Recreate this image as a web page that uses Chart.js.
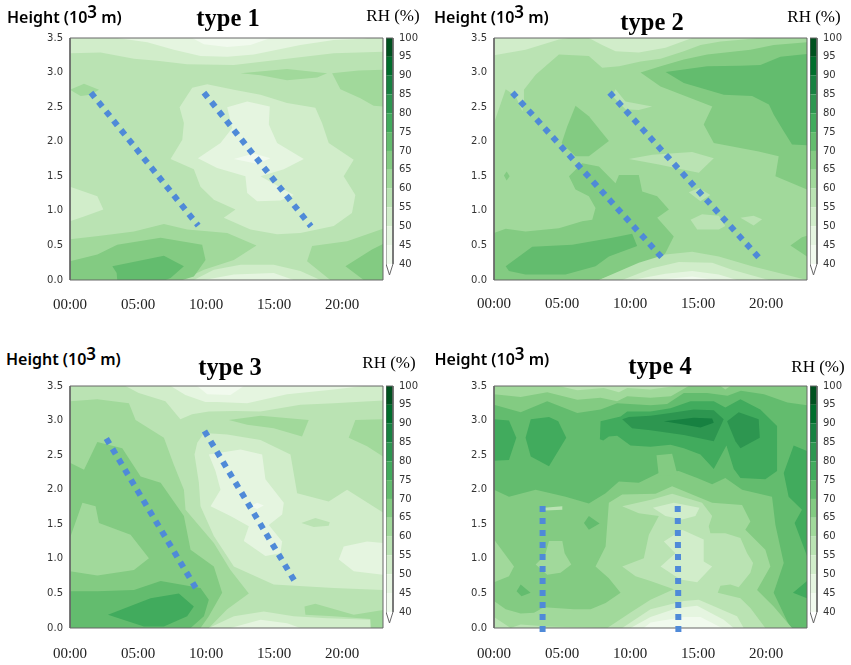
<!DOCTYPE html>
<html>
<head>
<meta charset="utf-8">
<script src="https://cdn.jsdelivr.net/npm/chart.js@4"></script>
<style>
  body { margin: 0; background: #fff; width: 851px; height: 665px; overflow: hidden; position: relative; }
  canvas { position: absolute; filter: blur(0.35px); }
  .lbl { position: absolute; white-space: nowrap; color: #000; transform: translateY(-50%); }
  .h { font: 600 16px "Noto Sans", sans-serif; }
  .h sup { font-size: 17px; line-height: 0; vertical-align: 5px; }
  .t { font: bold 24.5px "Liberation Serif", serif; transform: translate(-50%, -50%); }
  .rh { font: 17px "Liberation Serif", serif; transform: translate(-50%, -50%); }
</style>
</head>
<body>
<script>
const hourTicks = [0, 5, 10, 15, 20];
const hourLabels = ["00:00", "05:00", "10:00", "15:00", "20:00"];
const heightTicks = [0, 0.5, 1, 1.5, 2, 2.5, 3, 3.5];
const rhTicks = [40, 45, 50, 55, 60, 65, 70, 75, 80, 85, 90, 95, 100];
const bandColors = {
  40: "#f1faee", 45: "#e5f5e0", 50: "#d1edca", 55: "#bae3b3", 60: "#a1d99b", 65: "#83cb82",
  70: "#63bc6e", 75: "#41ab5d", 80: "#2d9650", 85: "#178141", 90: "#006d2c", 95: "#00511f"
};

// contour regions: [RH band, outline as [hour, height]], painted in order
const type1Contours = [
  [55, [[0,0],[23,0],[23,3.5],[0,3.5]]],
  [50, [[0,3.5],[23,3.5],[23,3.3],[19.38,3.28],[15.95,3.2],[12.04,3.11],[8.61,3.12],[6.41,3.17],[4.7,3.2],[2.25,3.29],[0,3.28]]],
  [45, [[3.47,3.5],[5.68,3.44],[7.63,3.33],[9.59,3.24],[11.55,3.23],[13.51,3.26],[15.22,3.33],[16.93,3.4],[19.38,3.47],[21.58,3.49],[21.83,3.5]]],
  [40, [[8.98,3.5],[9.84,3.41],[11.55,3.37],[13.26,3.4],[14.73,3.5]]],
  [60, [[12.53,2.99],[15.95,3.05],[18.89,2.99],[18.16,2.93],[15.95,2.89],[14,2.96]]],
  [60, [[19.26,2.99],[21.21,3.03],[23,3.04],[23,2.51],[22.31,2.52],[21.34,2.63],[19.87,2.76]]],
  [60, [[0,2.75],[1.03,2.84],[2.13,2.75],[1.52,2.68],[0.78,2.66]]],
  [50, [[8.98,2.78],[10.08,2.83],[12.04,2.75],[14,2.68],[15.95,2.56],[18.03,2.49],[18.52,2.27],[19.01,1.98],[20.85,1.74],[20.11,1.5],[20.97,1.23],[20.72,0.97],[19.38,0.78],[16.93,0.68],[15.22,0.66],[13.26,0.73],[11.3,0.9],[12.16,1.02],[10.57,1.16],[9.59,1.35],[9.1,1.6],[7.39,1.75],[8.25,2.03],[8.37,2.27],[8.05,2.5]]],
  [45, [[11.55,2.5],[13.02,2.58],[14.68,2.51],[14.61,2.25],[15.22,1.98],[17.18,1.75],[15.71,1.6],[14,1.5],[16.44,1.23],[15.46,1.15],[13.75,1.14],[13.02,1.26],[12.89,1.5],[10.81,1.62],[9.4,1.76],[11.06,1.98],[11.92,2.2]]],
  [40, [[12.04,1.75],[13.51,1.83],[14.73,1.76],[13.75,1.68]]],
  [50, [[0,1.35],[2.01,1.21],[2.45,1.02],[1.03,0.92],[0,0.85]]],
  [60, [[0,0.59],[2.25,0.64],[4.7,0.7],[6.9,0.81],[8.61,0.73],[11.55,0.68],[13.7,0.5],[12.04,0.29],[9.84,0.15],[8.25,0],[0,0]]],
  [60, [[23,0.74],[20.36,0.56],[17.79,0.49],[17.42,0.27],[19.13,0],[23,0]]],
  [65, [[0,0.27],[2.01,0.37],[3.47,0.51],[6.66,0.61],[9.71,0.51],[9.96,0.29],[9.1,0.05],[8.25,0],[0,0]]],
  [70, [[3.11,0.2],[6.9,0.35],[8.37,0.2],[7.39,0.03],[7.02,0],[3.47,0],[3.43,0.1]]],
  [65, [[20.24,0.2],[22.19,0.44],[23,0.52],[23,0],[21.58,0]]],
  [50, [[9.1,0],[10.57,0.15],[12.53,0.22],[14.97,0.22],[16.93,0.13],[18.4,0]]],
  [45, [[9.84,0],[12.04,0.08],[14.97,0.1],[16.44,0]]]
];
const type1Ridges = [[[1.54,2.71],[9.42,0.786]], [[9.84,2.71],[17.71,0.776]]];

const type2Contours = [
  [60, [[0,0],[23,0],[23,3.5],[0,3.5]]],
  [55, [[0,3.5],[19.3,3.5],[18.36,3.48],[16.65,3.45],[15.18,3.4],[13.95,3.31],[12.24,3.2],[10.77,3.16],[9.2,3.09],[7.95,3.07],[6.97,3.24],[4.77,3.26],[3.06,2.97],[2.2,2.75],[2.2,2.56],[2.08,2.44],[1.59,2.66],[0.86,2.76],[0.42,2.51],[0,2.27]]],
  [50, [[0,3.5],[5.51,3.5],[4.77,3.48],[2.32,3.33],[0,3.25]]],
  [50, [[6.97,3.5],[14.56,3.5],[12.6,3.36],[10.64,3.29],[8.93,3.31],[7.95,3.4]]],
  [65, [[10.77,3],[12.24,3.09],[13.95,3.19],[15.67,3.26],[18.85,3.33],[20.56,3.4],[23,3.44],[23,1.31],[20.68,1.5],[20.92,1.79],[19.45,1.86],[16.15,1.98],[15.41,2.25],[16.04,2.51],[12.24,2.8]]],
  [70, [[12.61,3.01],[15.67,3.09],[18.11,3.1],[19.58,3.11],[21.05,3.23],[23,3.27],[23,1.95],[21.9,1.96],[21.29,2.15],[20.56,2.39],[20.2,2.54],[18.97,2.66],[16.89,2.68],[13.95,2.85]]],
  [65, [[5.99,2.52],[6.97,2.37],[8.44,2.01],[6.97,1.79],[5.99,1.79],[4.97,1.98],[5.38,2.22]]],
  [65, [[5.51,1.5],[6.48,1.69],[7.71,1.64],[8.93,1.4],[9.18,1.52],[10.64,1.52],[10.89,1.28],[11.99,1.21],[12.85,1.02],[11.99,0.9],[13.21,0.63],[12.6,0.39],[11.87,0.25],[9.66,0.15],[7.71,0],[0,0],[0,0.68],[0.86,0.74],[2.32,0.7],[4.77,0.75],[6.48,0.85],[7.22,0.87],[7.46,1.04],[6.97,1.21],[5.99,1.31]]],
  [70, [[0.86,0.2],[2.81,0.48],[5.75,0.51],[8.69,0.61],[10.15,0.67],[10.52,0.49],[8.44,0.34],[7.46,0.2],[5.26,0.08],[2.32,0.08],[1.1,0.13]]],
  [55, [[7.71,0],[10.64,0.25],[12.6,0.37],[14.56,0.41],[16.52,0.34],[18.96,0.2],[23,0]]],
  [50, [[9.42,0],[11.62,0.17],[13.58,0.26],[16.03,0.25],[17.49,0.15],[20.19,0]]],
  [45, [[10.15,0],[12.6,0.09],[14.56,0.13],[16.52,0.08],[17.86,0]]],
  [40, [[11.87,0],[14.56,0.05],[16.27,0]]],
  [55, [[9.91,1.75],[11.62,1.81],[14.56,1.85],[16.15,1.76],[15.05,1.55],[13.33,1.62],[12.11,1.67]]],
  [55, [[14.44,0.87],[15.29,0.95],[16.52,0.93],[17,0.78],[16.52,0.73],[14.93,0.73]]],
  [55, [[18.11,0.9],[19.08,0.93],[19.7,0.88],[19.08,0.79]]],
  [55, [[14.31,1.27],[15.05,1.33],[15.9,1.23],[15.17,1.14]]],
  [55, [[8.93,2.76],[9.66,2.58],[11.62,2.51],[10.64,2.46],[9.66,2.47],[8.69,2.66]]],
  [65, [[0.73,1.51],[0.93,1.57],[1.15,1.5],[0.93,1.44]]],
  [65, [[21.78,0.5],[22.63,0.62],[23,0.64],[23,0.34]]]
];
const type2Ridges = [[[1.35,2.71],[12.36,0.32]], [[8.49,2.71],[19.48,0.32]]];

const type3Contours = [
  [55, [[0,0],[23,0],[23,3.5],[0,3.5]]],
  [50, [[4.07,3.5],[23,3.5],[23,3.29],[19.38,3.25],[16.93,3.23],[14,3.13],[12.15,3.14],[10.2,3.13],[8.97,3.09],[8.11,3.02],[7.01,3.28],[5.05,3.4]]],
  [45, [[7.4,3.5],[21.58,3.5],[19.38,3.45],[15.95,3.38],[13.02,3.25],[10.81,3.27],[9.95,3.27],[8.48,3.37]]],
  [40, [[9.34,3.5],[12.77,3.5],[11.79,3.37],[10.08,3.38]]],
  [60, [[0,3.28],[2.01,3.31],[4.33,3.25],[4.82,3.01],[6.9,2.75],[7.63,2.36],[8.37,2],[8.49,1.71],[10.57,1.23],[11.79,0.84],[13.14,0.5],[11.55,0.27],[10.2,0],[0,0]]],
  [65, [[0,2.39],[1.03,2.29],[2.01,2.69],[3.84,2.6],[5.19,2.19],[6.66,2.1],[8.37,1.62],[8.86,1.13],[10.57,0.89],[11.18,0.51],[10.2,0.17],[9.59,0],[0,0]]],
  [60, [[0,1.3],[0.91,1.81],[1.88,1.76],[2.13,1.52],[4.45,1.35],[5.8,1.01],[4.7,0.84],[2.01,0.76],[0,0.82]]],
  [70, [[0,0.53],[2.01,0.53],[4.7,0.55],[6.66,0.68],[9.59,0.58],[10.2,0.41],[9.84,0.17],[8.86,0],[0,0]]],
  [75, [[2.79,0.19],[5.92,0.43],[8,0.5],[9.1,0.31],[8.61,0.17],[6.9,0.02],[5.43,0.02]]],
  [60, [[11.67,3.01],[14,3.07],[17.54,3.01],[17.05,2.77],[14.97,2.89],[13.02,2.94]]],
  [60, [[20.48,2.75],[20.97,3.01],[23,3.02],[23,2.48],[21.83,2.63]]],
  [50, [[9.35,2.68],[9.84,2.82],[11.55,2.8],[14,2.72],[16.2,2.51],[16.69,1.95],[19.01,1.83],[20.36,2],[23,1.67],[23,0.55],[19.38,0.58],[14.97,0.63],[12.04,0.89],[10.57,1.33],[9.59,1.76],[9.47,2.1],[9.15,2.51]]],
  [45, [[10.2,2.51],[12.53,2.58],[14.12,2.51],[14.36,2.15],[15.71,1.81],[15.59,1.64],[14.61,1.49],[15.59,1.25],[15.46,1.08],[14.36,1.04],[12.77,1.26],[13.14,1.47],[11.79,1.62],[10.33,1.76],[11.06,2],[10.69,2.27]]],
  [40, [[13.26,1.76],[13.75,1.81],[14.24,1.77],[13.75,1.72]]],
  [45, [[19.75,0.99],[20.11,1.18],[21.83,1.25],[23,1.23],[23,0.77],[20.85,0.82]]],
  [55, [[17,1.52],[18.03,1.59],[19.09,1.53],[19.01,1.48],[17.91,1.46]]],
  [50, [[10.2,0],[12.04,0.17],[14.24,0.24],[16.44,0.17],[18.89,0.14],[22.07,0.12],[22.07,0]]],
  [45, [[11.79,0],[14,0.12],[15.95,0.07],[16.93,0]]],
  [60, [[17.23,0.31],[18.03,0.35],[20.85,0.19],[23,0.26],[23,0],[22.12,0],[22.07,0.13],[19.38,0.17],[17.3,0.19]]]
];
const type3Ridges = [[[2.67,2.74],[9.27,0.57]], [[9.88,2.85],[16.47,0.69]]];

const type4Contours = [
  [65, [[0,0],[23,0],[23,3.5],[0,3.5]]],
  [60, [[0,3.5],[14.31,3.5],[13,3.35],[11.5,3.33],[9.79,3.35],[9.05,3.28],[7.83,3.33],[6.12,3.3],[3.91,3.41],[1.96,3.34],[0,3.38]]],
  [55, [[4.77,3.5],[6.12,3.44],[8.07,3.47],[9.18,3.41],[9.79,3.47],[11.5,3.45],[13.33,3.5]]],
  [60, [[16.64,3.5],[17.37,3.5],[17,3.45]]],
  [70, [[0,3.23],[1.96,3.12],[3.91,3.28],[6.12,3.11],[7.83,3.16],[9.05,3.25],[11.5,3.22],[12.72,3.24],[13.95,3.4],[15.66,3.4],[17.16,3.36],[18.14,3.43],[19.84,3.38],[21.56,3.26],[23,3.22],[23,0],[21.78,0],[20.55,0.51],[21.29,0.94],[20.68,1.49],[20.43,1.9],[18.23,2],[17,2.17],[16.03,2.08],[14.93,2.17],[13.58,2.27],[12.11,2.24],[10.64,2.1],[9.18,2.12],[8.2,1.95],[6.97,1.8],[5.26,1.9],[3.06,2],[1.1,1.9],[0,2]]],
  [65, [[11.94,2.5],[13.09,2.52],[13.41,2.27],[13.6,2.22],[12.11,2.2]]],
  [75, [[0,3.02],[1.1,3],[1.64,2.75],[1.1,2.43],[0,2.42]]],
  [75, [[2.32,2.75],[2.7,3.02],[4.04,3.05],[4.72,2.99],[5.31,2.75],[4.04,2.34],[2.7,2.48]]],
  [75, [[7.78,2.73],[7.83,2.99],[9.3,3.06],[9.79,3.13],[11.5,3.13],[12.97,3.18],[14.44,3.28],[16.15,3.28],[17,3.19],[18.11,3.31],[19.57,3.16],[20.8,2.92],[20.8,2.27],[19.94,2.15],[18.11,2.17],[17.62,2.3],[17.08,2.64],[16.15,2.3],[15.17,2.51],[13.95,2.6],[12.97,2.65],[11.5,2.62],[10.03,2.64],[9.05,2.78],[8.44,2.77],[8.03,2.71]]],
  [75, [[22.02,2.64],[23,2.56],[23,1.04],[22.09,1.52],[22.63,1.71],[21.65,1.9],[21.29,2.24]]],
  [75, [[21.97,0.51],[23,0.68],[23,0.43]]],
  [80, [[9.42,3.02],[9.91,3.05],[11.5,3.07],[12.97,3.11],[14.68,3.16],[16.15,3.15],[16.88,3.02],[16.15,2.7],[13.95,2.79],[11.5,2.86],[10.15,2.89]]],
  [80, [[17.13,2.99],[17.98,3.12],[19.45,3.02],[19.53,2.75],[18.11,2.6],[17.74,2.7]]],
  [85, [[12.48,2.99],[14.68,3.04],[16.03,3.03],[16.15,2.97],[15.17,2.9],[13.7,2.95]]],
  [60, [[0,0.39],[0.86,0.27],[1.96,0.21],[2.94,0.22],[3.67,0.3],[5.87,0.27],[7.1,0.27],[8.2,0.36],[9.3,0.51],[8.44,0.72],[7.46,0.89],[8.2,1.18],[8.44,1.81],[9.42,1.93],[11.87,1.94],[13.09,2.05],[16.03,1.81],[18.23,1.78],[18.84,1.54],[18.47,1.42],[19.94,1.13],[20.31,0.89],[19.33,0.55],[20.55,0.31],[21.9,0],[0,0]]],
  [60, [[0,1.28],[1.47,0.89],[1.1,0.75],[0,0.66]]],
  [60, [[4.04,1.26],[5.02,1.26],[5.19,1.08],[5.68,0.92],[4.89,0.8],[3.91,0.77],[3.06,0.92],[3.43,0.99],[3.79,1.08]]],
  [55, [[3.67,1.74],[5.02,1.76],[5.02,1.71],[3.79,1.7]]],
  [55, [[9.42,1.76],[11.62,1.86],[13.09,1.94],[15.29,1.81],[16.03,1.62],[15.78,1.47],[15.9,1.37],[17,1.37],[18.11,1.3],[18.6,1.08],[19.04,0.94],[18.84,0.8],[17.98,0.59],[17.37,0.63],[16.64,0.61],[16.44,0.51],[18.11,0.43],[18.84,0.29],[19.94,0],[8.32,0],[10.15,0.24],[11.5,0.41],[13.21,0.56],[11.5,0.68],[10.4,0.75],[9.42,0.89],[11.01,1.01],[11.38,1.35],[12.11,1.62],[10.64,1.66]]],
  [50, [[11.67,1.74],[13.21,1.81],[15.1,1.74],[14.8,1.62],[13.82,1.57],[12.6,1.62]]],
  [50, [[12.48,1.25],[13.82,1.42],[15.41,1.28],[15.41,0.96],[16.03,0.89],[14.93,0.66],[13.7,0.7],[12.24,0.89],[13.33,1.08]]],
  [50, [[9.42,0],[11.5,0.27],[13.95,0.39],[15.05,0.41],[17.86,0.17],[18.35,0]]],
  [45, [[10.03,0],[11.5,0.16],[13.46,0.29],[14.93,0.32],[16.88,0.12],[17.62,0]]],
  [40, [[11,0],[11.5,0.08],[13.95,0.16],[15.17,0.16],[16.76,0]]],
  [55, [[0,0.16],[1.22,0],[1.96,0.05],[3.91,0.02],[6.12,0.01],[8.3,0],[0,0]]],
  [70, [[1.66,0.53],[1.96,0.63],[2.69,0.51],[2.02,0.46]]],
  [70, [[6.61,1.52],[6.97,1.62],[7.76,1.51],[6.97,1.42]]]
];
const type4Ridges = [[[3.57,1.765],[3.57,-0.07]], [[13.5,1.765],[13.55,-0.07]]];

const toPoints = (pts) => pts.map(([x, y]) => ({ x, y }));

const panels = [
  { name: "type 1", contours: type1Contours, ridges: type1Ridges, left: 69.5, top: 38, xPad: 13,
    heightAt: [7, 17], titleAt: [228, 18], rhAt: [393, 16] },
  { name: "type 2", contours: type2Contours, ridges: type2Ridges, left: 493.5, top: 38, xPad: 12,
    heightAt: [434, 17], titleAt: [652, 22], rhAt: [814, 17] },
  { name: "type 3", contours: type3Contours, ridges: type3Ridges, left: 69.5, top: 386, xPad: 14,
    heightAt: [6, 359], titleAt: [230, 367], rhAt: [389, 363] },
  { name: "type 4", contours: type4Contours, ridges: type4Ridges, left: 493.5, top: 386, xPad: 14,
    heightAt: [434.5, 359], titleAt: [660, 366], rhAt: [818, 367] },
];

const addCanvas = (left, top, width, height) => {
  const canvas = document.createElement("canvas");
  canvas.width = width;
  canvas.height = height;
  canvas.style.left = left + "px";
  canvas.style.top = top + "px";
  document.body.appendChild(canvas);
  return canvas;
};

const addLabel = (cls, at, html) => {
  const el = document.createElement("div");
  el.className = "lbl " + cls;
  el.style.left = at[0] + "px";
  el.style.top = at[1] + "px";
  el.innerHTML = html;
  document.body.appendChild(el);
};

const drawPanel = (panel) => {
  const axisW = 36, axisH = 36, padTop = 14;
  const canvas = addCanvas(panel.left - axisW, panel.top - padTop, axisW + 313 + 4, padTop + 242 + axisH);

  const datasets = panel.contours.map(([band, pts]) => ({
    data: toPoints(pts),
    showLine: true,
    fill: "shape",
    backgroundColor: bandColors[band],
    borderWidth: 0,
    pointRadius: 0,
  }));
  datasets.push({
    data: toPoints([[0, 0], [23, 0], [23, 3.5], [0, 3.5], [0, 0]]),
    showLine: true,
    borderColor: "#666",
    borderWidth: 1,
    pointRadius: 0,
    clip: false,
  });
  panel.ridges.forEach((ridge) => {
    datasets.push({
      data: toPoints(ridge),
      showLine: true,
      borderColor: "#4f8ad8",
      borderWidth: 6,
      borderDash: [6, 6],
      pointRadius: 0,
      clip: false,
    });
  });
  // chart.js paints the first dataset last
  datasets.reverse();

  new Chart(canvas.getContext("2d"), {
    type: "scatter",
    data: { datasets },
    options: {
      responsive: false,
      animation: false,
      events: [],
      layout: { padding: { top: padTop, right: 4, left: 0, bottom: 0 } },
      plugins: { legend: { display: false }, tooltip: { enabled: false } },
      scales: {
        x: {
          type: "linear", min: 0, max: 23,
          grid: { display: false, drawTicks: true, tickLength: 3, tickColor: "#555" },
          border: { display: false },
          afterBuildTicks: (s) => { s.ticks = hourTicks.map((value) => ({ value })); },
          afterFit: (s) => { s.height = axisH; },
          ticks: {
            maxRotation: 0, autoSkip: false, padding: panel.xPad, color: "#222",
            font: { family: "Liberation Serif", size: 15 },
            callback: (v) => hourLabels[hourTicks.indexOf(v)],
          },
        },
        y: {
          type: "linear", min: 0, max: 3.5,
          grid: { display: false, tickLength: 3, tickColor: "#555" },
          border: { display: false },
          afterBuildTicks: (s) => { s.ticks = heightTicks.map((value) => ({ value })); },
          afterFit: (s) => { s.width = axisW; },
          ticks: {
            autoSkip: false, padding: 4, color: "#333",
            font: { family: "DejaVu Sans", size: 10 },
            callback: (v) => v.toFixed(1),
          },
        },
      },
    },
  });

  // colorbar next to the panel
  const barW = 7, barAxis = 32;
  const barCanvas = addCanvas(panel.left + 316.5, panel.top - padTop, barW + barAxis, padTop + 242 + 4);
  const bandDatasets = rhTicks.slice(0, -1).map((lo, i) => ({
    data: toPoints([[0, lo], [1, lo], [1, rhTicks[i + 1]], [0, rhTicks[i + 1]]]),
    showLine: true,
    fill: "shape",
    backgroundColor: bandColors[lo],
    borderWidth: 0,
    pointRadius: 0,
  }));
  bandDatasets.unshift({
    data: toPoints([[0, 100], [1, 100], [1, 40], [0.5, 37.06], [0, 40], [0, 100]]),
    showLine: true,
    borderColor: "#666",
    borderWidth: 1,
    pointRadius: 0,
    clip: false,
  });
  new Chart(barCanvas.getContext("2d"), {
    type: "scatter",
    data: { datasets: bandDatasets },
    options: {
      responsive: false,
      animation: false,
      events: [],
      layout: { padding: { top: padTop, bottom: 4, left: 0, right: 0 } },
      plugins: { legend: { display: false }, tooltip: { enabled: false } },
      scales: {
        x: { type: "linear", min: 0, max: 1, display: false },
        y: {
          type: "linear", position: "right", min: 37.06, max: 100,
          grid: { display: false, tickLength: 3, tickColor: "#555" },
          border: { display: false },
          afterBuildTicks: (s) => { s.ticks = rhTicks.map((value) => ({ value })); },
          afterFit: (s) => { s.width = barAxis; },
          ticks: {
            autoSkip: false, padding: 3, color: "#333",
            font: { family: "DejaVu Sans", size: 10 },
            callback: (v) => String(v),
          },
        },
      },
    },
  });

  addLabel("h", panel.heightAt, "Height (10<sup>3</sup> m)");
  addLabel("t", panel.titleAt, panel.name);
  addLabel("rh", panel.rhAt, "RH (%)");
};

panels.forEach(drawPanel);
</script>
</body>
</html>
